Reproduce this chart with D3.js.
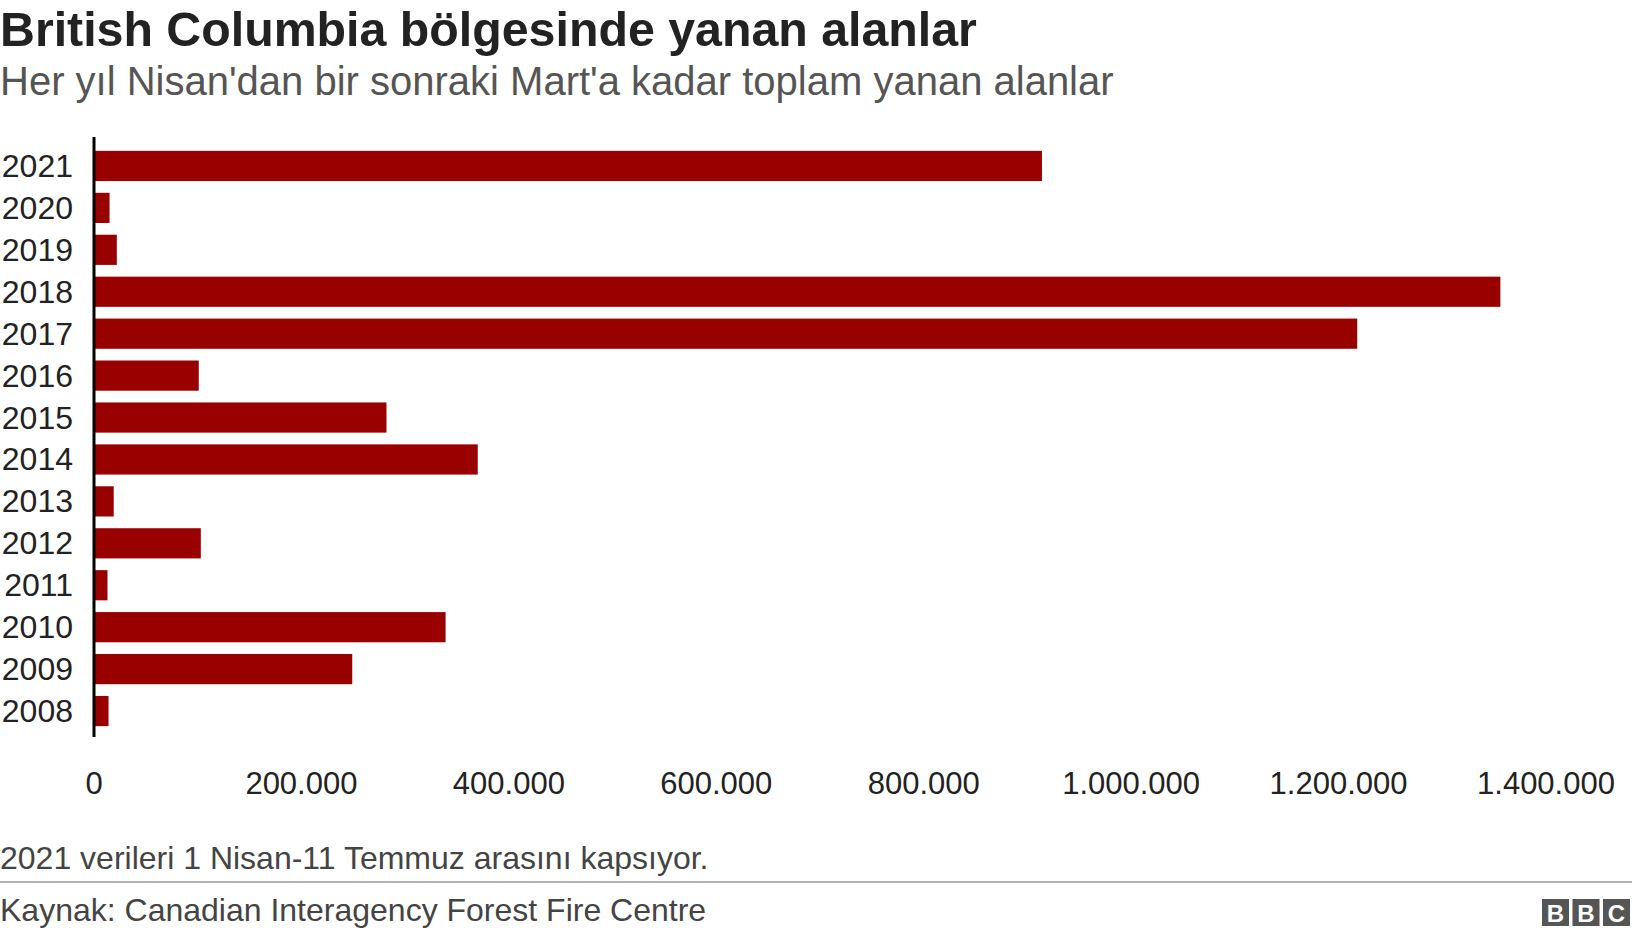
<!DOCTYPE html>
<html><head><meta charset="utf-8">
<script src="https://cdn.jsdelivr.net/npm/d3@7"></script>
<style>body{margin:0;background:#fff;font-family:"Liberation Sans",Arial,sans-serif}</style>
</head><body>
<svg id="c" width="1632" height="938"></svg>
<script>
// data
const years = ['2021','2020','2019','2018','2017','2016','2015','2014','2013','2012','2011','2010','2009','2008'];
const burned = [914000, 15000, 22000, 1356000, 1218000, 101000, 282000, 370000, 19000, 103000, 13000, 339000, 249000, 14000];
const xTicks = [0, 200000, 400000, 600000, 800000, 1000000, 1200000, 1400000];

const svg = d3.select('#c');
const fmt = d => d3.format(',')(d).replace(/,/g, '.');

svg.append('text').attr('x', 0).attr('y', 46).attr('font-size', 48.3).attr('font-weight', 'bold')
  .attr('fill', '#222').text('British Columbia bölgesinde yanan alanlar');
svg.append('text').attr('x', 0).attr('y', 95).attr('font-size', 40).attr('fill', '#555')
  .text("Her yıl Nisan'dan bir sonraki Mart'a kadar toplam yanan alanlar");

const x = d3.scaleLinear().domain([0, 1400000]).range([94, 1546]);
const y = d3.scaleBand().domain(years).range([145, 732]).paddingInner(0.28).paddingOuter(0.14);

svg.selectAll('rect.bar').data(years).enter().append('rect')
  .attr('class', 'bar')
  .attr('x', x(0))
  .attr('y', d => y(d))
  .attr('height', y.bandwidth())
  .attr('width', (d, i) => x(burned[i]) - x(0))
  .attr('fill', '#990000');

svg.selectAll('text.yl').data(years).enter().append('text')
  .attr('class', 'yl').attr('x', 73).attr('y', d => y(d) + y.bandwidth() / 2 + 11)
  .attr('text-anchor', 'end').attr('font-size', 32).attr('fill', '#222').text(d => d);

svg.append('line').attr('x1', 94).attr('x2', 94).attr('y1', 137).attr('y2', 737)
  .attr('stroke', '#000').attr('stroke-width', 3);

svg.selectAll('text.xl').data(xTicks).enter().append('text')
  .attr('class', 'xl').attr('x', d => x(d)).attr('y', 794)
  .attr('text-anchor', 'middle').attr('font-size', 31).attr('fill', '#222').text(fmt);

svg.append('text').attr('x', 0).attr('y', 869).attr('font-size', 32).attr('fill', '#444')
  .text('2021 verileri 1 Nisan-11 Temmuz arasını kapsıyor.');
svg.append('line').attr('x1', 0).attr('x2', 1632).attr('y1', 882).attr('y2', 882)
  .attr('stroke', '#999').attr('stroke-width', 1.5);
svg.append('text').attr('x', 0).attr('y', 921).attr('font-size', 32).attr('fill', '#444')
  .text('Kaynak: Canadian Interagency Forest Fire Centre');

// BBC logo
const logo = svg.append('g').attr('transform', 'translate(1542,899)');
['B', 'B', 'C'].forEach((l, i) => {
  logo.append('rect').attr('x', i * 30.5).attr('y', 0).attr('width', 27).attr('height', 27).attr('fill', '#555');
  logo.append('text').attr('x', i * 30.5 + 13.5).attr('y', 23).attr('text-anchor', 'middle')
    .attr('font-size', 24).attr('font-weight', 'bold').attr('fill', '#fff').text(l);
});
</script>
</body></html>
